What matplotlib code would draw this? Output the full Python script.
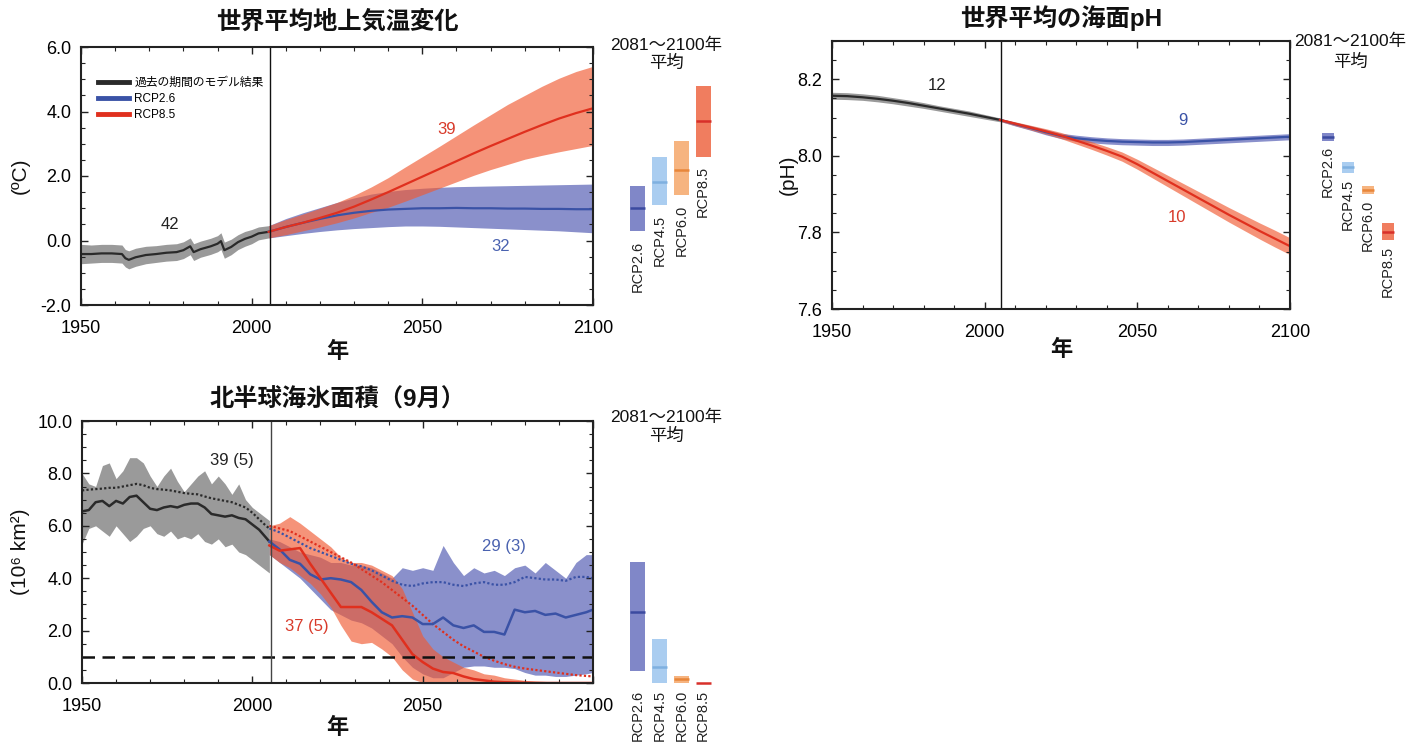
import numpy as np
import matplotlib
matplotlib.use('Agg')
import matplotlib.pyplot as plt
from matplotlib.ticker import MultipleLocator, FormatStrFormatter
from matplotlib.lines import Line2D

plt.rcParams['font.family'] = ['Liberation Sans', 'Noto Sans CJK JP', 'DejaVu Sans']
plt.rcParams['axes.unicode_minus'] = False

# ---------------- data ----------------
bar_names = ['RCP2.6', 'RCP4.5', 'RCP6.0', 'RCP8.5']

# global mean surface temperature change
temp_hist_years = [1950, 1953, 1956, 1959, 1962, 1963, 1964, 1966, 1969, 1972, 1975, 1978, 1980,
                   1982, 1983, 1985, 1988, 1990, 1991, 1992, 1994, 1996, 1998, 2000, 2002, 2005]
temp_hist = [-0.42, -0.42, -0.40, -0.40, -0.42, -0.55, -0.60, -0.52, -0.45, -0.42, -0.38, -0.36, -0.30,
             -0.18, -0.36, -0.27, -0.18, -0.10, -0.02, -0.30, -0.20, -0.05, 0.05, 0.12, 0.22, 0.27]
temp_hist_lo = [-0.72, -0.70, -0.68, -0.68, -0.70, -0.82, -0.88, -0.80, -0.72, -0.68, -0.64, -0.62, -0.56,
                -0.44, -0.62, -0.52, -0.43, -0.35, -0.28, -0.55, -0.44, -0.28, -0.18, -0.10, 0.02, 0.08]
temp_hist_hi = [-0.12, -0.14, -0.12, -0.12, -0.14, -0.28, -0.32, -0.24, -0.18, -0.16, -0.12, -0.10, -0.04,
                0.08, -0.10, -0.02, 0.07, 0.15, 0.24, -0.05, 0.04, 0.18, 0.28, 0.34, 0.42, 0.46]

proj_years = [2005, 2010, 2015, 2020, 2025, 2030, 2035, 2040, 2045, 2050,
              2055, 2060, 2065, 2070, 2075, 2080, 2085, 2090, 2095, 2100]
rcp26_T = [0.27, 0.42, 0.55, 0.67, 0.78, 0.86, 0.92, 0.96, 0.98, 1.00, 1.00, 1.01, 1.00, 1.00, 0.99, 0.99, 0.98, 0.98, 0.97, 0.97]
rcp26_T_lo = [0.08, 0.15, 0.22, 0.28, 0.33, 0.37, 0.40, 0.43, 0.45, 0.45, 0.44, 0.42, 0.40, 0.38, 0.36, 0.34, 0.32, 0.30, 0.27, 0.24]
rcp26_T_hi = [0.46, 0.68, 0.86, 1.02, 1.18, 1.32, 1.44, 1.52, 1.58, 1.62, 1.65, 1.67, 1.68, 1.69, 1.70, 1.71, 1.72, 1.73, 1.74, 1.75]
rcp85_T = [0.27, 0.42, 0.55, 0.70, 0.86, 1.05, 1.27, 1.50, 1.74, 1.98, 2.22, 2.46, 2.70, 2.93, 3.15, 3.37, 3.58, 3.78, 3.95, 4.10]
rcp85_T_lo = [0.08, 0.18, 0.30, 0.42, 0.55, 0.70, 0.87, 1.03, 1.22, 1.42, 1.62, 1.82, 2.02, 2.20, 2.36, 2.52, 2.64, 2.75, 2.85, 2.95]
rcp85_T_hi = [0.46, 0.65, 0.82, 1.00, 1.18, 1.40, 1.66, 1.95, 2.28, 2.60, 2.92, 3.25, 3.58, 3.90, 4.22, 4.50, 4.78, 5.03, 5.24, 5.40]

temp_bar_mean = [1.0, 1.8, 2.2, 3.7]
temp_bar_lo = [0.3, 1.1, 1.4, 2.6]
temp_bar_hi = [1.7, 2.6, 3.1, 4.8]

# global mean ocean surface pH
ph_hist_years = [1950, 1955, 1960, 1965, 1970, 1975, 1980, 1985, 1990, 1995, 2000, 2005]
ph_hist = [8.157, 8.156, 8.153, 8.149, 8.144, 8.138, 8.131, 8.124, 8.117, 8.110, 8.102, 8.094]
ph_hist_lo = [8.148, 8.147, 8.145, 8.141, 8.136, 8.130, 8.124, 8.117, 8.110, 8.103, 8.096, 8.089]
ph_hist_hi = [8.166, 8.165, 8.162, 8.158, 8.152, 8.146, 8.139, 8.131, 8.124, 8.117, 8.108, 8.099]
rcp26_ph = [8.094, 8.083, 8.073, 8.062, 8.052, 8.046, 8.042, 8.039, 8.037, 8.036, 8.035, 8.035, 8.036, 8.038, 8.040, 8.042, 8.044, 8.046, 8.048, 8.050]
rcp26_ph_lo = [8.090, 8.078, 8.067, 8.055, 8.045, 8.038, 8.034, 8.031, 8.029, 8.028, 8.027, 8.027, 8.028, 8.030, 8.032, 8.034, 8.036, 8.038, 8.040, 8.042]
rcp26_ph_hi = [8.098, 8.088, 8.079, 8.069, 8.059, 8.054, 8.050, 8.047, 8.045, 8.044, 8.043, 8.043, 8.044, 8.046, 8.048, 8.050, 8.052, 8.054, 8.056, 8.058]
rcp85_ph = [8.094, 8.084, 8.074, 8.064, 8.053, 8.040, 8.027, 8.013, 7.998, 7.978, 7.956, 7.934, 7.912, 7.890, 7.868, 7.846, 7.825, 7.804, 7.784, 7.764]
rcp85_ph_lo = [8.090, 8.079, 8.068, 8.057, 8.045, 8.031, 8.017, 8.002, 7.986, 7.965, 7.942, 7.919, 7.896, 7.873, 7.850, 7.827, 7.805, 7.783, 7.762, 7.742]
rcp85_ph_hi = [8.098, 8.089, 8.080, 8.071, 8.061, 8.049, 8.037, 8.024, 8.010, 7.991, 7.970, 7.949, 7.928, 7.907, 7.886, 7.865, 7.845, 7.825, 7.806, 7.786]

ph_bar_mean = [8.050, 7.970, 7.912, 7.802]
ph_bar_lo = [8.040, 7.955, 7.900, 7.780]
ph_bar_hi = [8.060, 7.985, 7.922, 7.825]

# Northern Hemisphere September sea ice extent
ice_hist_years = [1950, 1952, 1954, 1956, 1958, 1960, 1962, 1964, 1966, 1968, 1970, 1972, 1974, 1976,
                  1978, 1980, 1982, 1984, 1986, 1988, 1990, 1992, 1994, 1996, 1998, 2000, 2002, 2004, 2005]
ice_hist = [6.55, 6.60, 6.90, 6.95, 6.75, 6.95, 6.85, 7.10, 7.15, 6.90, 6.65, 6.60, 6.70, 6.75,
            6.70, 6.80, 6.85, 6.85, 6.70, 6.45, 6.40, 6.35, 6.40, 6.30, 6.25, 6.05, 5.85, 5.55, 5.40]
ice_hist_all = [7.35, 7.38, 7.40, 7.42, 7.45, 7.45, 7.50, 7.55, 7.60, 7.55, 7.45, 7.40, 7.38, 7.35,
                7.30, 7.25, 7.22, 7.20, 7.12, 7.05, 7.00, 6.95, 6.90, 6.80, 6.70, 6.50, 6.25, 6.00, 5.90]
ice_hist_lo = [5.30, 5.90, 6.00, 5.80, 5.60, 6.00, 5.70, 5.40, 5.60, 5.90, 6.00, 5.70, 5.60, 5.80,
               5.50, 5.60, 5.50, 5.70, 5.40, 5.30, 5.50, 5.20, 5.30, 5.00, 4.90, 4.70, 4.50, 4.30, 4.20]
ice_hist_hi = [8.00, 7.60, 7.50, 8.30, 8.40, 7.80, 8.10, 8.60, 8.60, 8.40, 7.90, 7.50, 7.90, 8.20,
               7.70, 7.30, 7.60, 7.90, 8.10, 7.60, 7.90, 7.60, 7.20, 7.60, 7.00, 6.70, 6.50, 6.30, 6.20]

ice_proj_years = [2005, 2008, 2011, 2014, 2017, 2020, 2023, 2026, 2029, 2032, 2035, 2038, 2041, 2044, 2047,
                  2050, 2053, 2056, 2059, 2062, 2065, 2068, 2071, 2074, 2077, 2080, 2083, 2086, 2089,
                  2092, 2095, 2098, 2100]
rcp26_ice = [5.40, 5.10, 4.70, 4.55, 4.15, 3.95, 4.00, 3.95, 3.85, 3.55, 3.10, 2.70, 2.50, 2.55, 2.50,
             2.25, 2.25, 2.50, 2.20, 2.10, 2.20, 1.95, 1.95, 1.85, 2.80, 2.70, 2.75, 2.60, 2.65,
             2.50, 2.60, 2.70, 2.80]
rcp26_ice_all = [5.90, 5.75, 5.55, 5.35, 5.15, 5.00, 4.85, 4.70, 4.55, 4.45, 4.30, 4.10, 3.90, 3.75, 3.70,
                 3.80, 3.85, 3.85, 3.75, 3.70, 3.80, 3.85, 3.75, 3.75, 3.85, 4.05, 4.00, 3.95, 3.95,
                 3.90, 4.05, 4.05, 4.00]
rcp26_ice_lo = [4.90, 4.60, 4.30, 4.00, 3.60, 3.20, 2.80, 2.60, 2.40, 2.30, 2.10, 1.80, 1.50, 1.00, 0.60,
                0.35, 0.20, 0.20, 0.40, 0.60, 0.65, 0.65, 0.60, 0.60, 0.55, 0.40, 0.30, 0.30, 0.25,
                0.25, 0.30, 0.35, 0.40]
rcp26_ice_hi = [5.50, 5.40, 5.20, 5.00, 4.90, 4.80, 4.60, 4.60, 4.50, 4.50, 4.40, 4.20, 4.00, 4.40, 4.30,
                4.40, 4.30, 5.25, 4.60, 4.10, 4.40, 4.20, 4.30, 4.10, 4.40, 4.50, 4.20, 4.60, 4.30,
                4.00, 4.60, 4.90, 4.90]
rcp85_ice = [5.25, 5.05, 5.10, 5.15, 4.55, 4.00, 3.45, 2.90, 2.90, 2.90, 2.70, 2.45, 2.20, 1.65, 1.10,
             0.80, 0.55, 0.42, 0.38, 0.25, 0.15, 0.10, 0.05, 0.03, 0.02, 0.01, 0.00, 0.00, 0.00,
             0.00, 0.00, 0.00, 0.00]
rcp85_ice_all = [6.00, 5.90, 5.80, 5.60, 5.40, 5.20, 5.00, 4.80, 4.60, 4.35, 4.10, 3.85, 3.55, 3.25, 2.95,
                 2.60, 2.25, 1.95, 1.65, 1.40, 1.20, 1.00, 0.85, 0.72, 0.62, 0.55, 0.50, 0.45, 0.40,
                 0.35, 0.30, 0.27, 0.25]
rcp85_ice_lo = [4.90, 4.60, 4.40, 4.10, 3.80, 3.40, 2.90, 2.20, 1.60, 1.50, 1.55, 1.30, 1.00, 0.50, 0.15,
                0.02, 0.00, 0.00, 0.00, 0.00, 0.00, 0.00, 0.00, 0.00, 0.00, 0.00, 0.00, 0.00, 0.00,
                0.00, 0.00, 0.00, 0.00]
rcp85_ice_hi = [6.00, 6.10, 6.35, 6.10, 5.80, 5.50, 5.20, 4.80, 4.60, 4.60, 4.50, 4.30, 4.10, 3.60, 2.70,
                1.80, 1.30, 1.00, 0.80, 0.60, 0.50, 0.35, 0.30, 0.20, 0.15, 0.10, 0.08, 0.06, 0.04,
                0.03, 0.02, 0.01, 0.00]
ice_threshold = 1.0

ice_bar_mean = [2.71, 0.61, 0.17, 0.0]
ice_bar_lo = [0.47, 0.0, 0.0, 0.0]
ice_bar_hi = [4.63, 1.68, 0.27, 0.0]

x_ticks = [1950, 2000, 2050, 2100]
temp_yticks = [-2.0, 0.0, 2.0, 4.0, 6.0]
ph_yticks = [7.6, 7.8, 8.0, 8.2]
ice_yticks = [0.0, 2.0, 4.0, 6.0, 8.0, 10.0]

# ---------------- styles ----------------
C_HIST_LINE = '#2a2a2a'
C_HIST_BAND = '#9a9a9a'
C_BLUE_LINE = '#3a52a6'
C_BLUE_BAND = '#4b55b0'
C_RED_LINE = '#e0301e'
C_RED_BAND = '#f05a32'
bar_colors = ['#8087c8', '#aacdf0', '#f6b480', '#f07d5f']
bar_line_colors = ['#3b4aa0', '#7fb0e0', '#e8863a', '#d8302a']

W, H = 1422, 744
fig = plt.figure(figsize=(W / 100, H / 100), dpi=100)


def px_axes(l, t, r, b):
    return fig.add_axes([l / W, 1 - b / H, (r - l) / W, (b - t) / H])


def style(ax, ylim, yticks, minor, fmt):
    ax.set_xlim(1950, 2100)
    ax.set_ylim(*ylim)
    ax.set_xticks(x_ticks)
    ax.xaxis.set_minor_locator(MultipleLocator(10))
    ax.set_yticks(yticks)
    ax.yaxis.set_minor_locator(MultipleLocator(minor))
    ax.yaxis.set_major_formatter(FormatStrFormatter(fmt))
    ax.tick_params(which='both', direction='in', top=True, right=True, labelsize=13, color='#222222')
    ax.tick_params(which='major', length=5, width=1.0)
    ax.tick_params(which='minor', length=3, width=0.8)
    ax.tick_params(axis='x', pad=11)
    ax.tick_params(axis='y', pad=7)
    for s in ax.spines.values():
        s.set_linewidth(1.5)
        s.set_color('#222222')


def bars(bax, ylim, means, lows, highs, label_base, gap_pt, bw):
    bax.set_xlim(0, 4)
    bax.set_ylim(*ylim)
    bax.axis('off')
    for i, name in enumerate(bar_names):
        x = i + 0.5
        bax.bar(x, highs[i] - lows[i], bottom=lows[i], width=bw, color=bar_colors[i],
                edgecolor='none', clip_on=False)
        bax.plot([x - bw / 2, x + bw / 2], [means[i], means[i]], color=bar_line_colors[i], lw=1.8,
                 clip_on=False, solid_capstyle='butt')
        base = lows[i] if label_base is None else label_base
        bax.annotate(name, xy=(x, base), xytext=(0, -gap_pt), textcoords='offset points',
                     rotation=90, ha='center', va='top', fontsize=10.5, color='#222222',
                     annotation_clip=False)


def period_text(xc, y1, y2):
    fig.text(xc / W, 1 - y1 / H, '2081～2100年', ha='center', va='center', fontsize=12.5, color='#111111')
    fig.text(xc / W, 1 - y2 / H, '平均', ha='center', va='center', fontsize=12.5, color='#111111')


def title(ax, txt, y):
    ax.text(0.5, y, txt, transform=ax.transAxes, ha='center', va='center', fontsize=17.5,
            fontweight='bold', color='#111111')


def xlab(ax, y):
    ax.text(0.5, y, '年', transform=ax.transAxes, ha='center', va='center', fontsize=16,
            fontweight='bold', color='#111111')


def ylab(ax, txt, x):
    ax.text(x, 0.5, txt, transform=ax.transAxes, ha='center', va='center', fontsize=15,
            rotation=90, color='#111111')


# ---------------- temperature ----------------
axT = px_axes(81, 47, 593, 305)
style(axT, (-2.0, 6.0), temp_yticks, 0.5, '%.1f')
axT.fill_between(temp_hist_years, temp_hist_lo, temp_hist_hi, color=C_HIST_BAND, lw=0)
axT.fill_between(proj_years, rcp26_T_lo, rcp26_T_hi, color=C_BLUE_BAND, alpha=0.65, lw=0)
axT.fill_between(proj_years, rcp85_T_lo, rcp85_T_hi, color=C_RED_BAND, alpha=0.65, lw=0)
axT.plot(temp_hist_years, temp_hist, color=C_HIST_LINE, lw=1.6)
axT.plot(proj_years, rcp26_T, color=C_BLUE_LINE, lw=1.6)
axT.plot(proj_years, rcp85_T, color=C_RED_LINE, lw=1.6)
axT.axvline(2005.5, color='#111111', lw=1.0)
axT.text(1976, 0.5, '42', ha='center', va='center', fontsize=12, color='#222222')
axT.text(2057, 3.45, '39', ha='center', va='center', fontsize=12, color='#d83a2a')
axT.text(2073, -0.2, '32', ha='center', va='center', fontsize=12, color='#4a62b0')
handles = [Line2D([], [], color=C_HIST_LINE, lw=3.5),
           Line2D([], [], color=C_BLUE_LINE, lw=3.5),
           Line2D([], [], color=C_RED_LINE, lw=3.5)]
axT.legend(handles, ['過去の期間のモデル結果', 'RCP2.6', 'RCP8.5'], loc='upper left',
           bbox_to_anchor=(0.033, 0.885), frameon=False, fontsize=8.5, borderpad=0,
           borderaxespad=0, handlelength=2.6, handletextpad=0.5, labelspacing=0.35)
title(axT, '世界平均地上気温変化', 1.097)
xlab(axT, -0.182)
ylab(axT, '(ºC)', -0.119)
bT = px_axes(627, 47, 714, 305)
bars(bT, (-2.0, 6.0), temp_bar_mean, temp_bar_lo, temp_bar_hi, None, 7, 0.69)
period_text(666, 45, 63)

# ---------------- pH ----------------
axP = px_axes(832, 41, 1290, 309)
style(axP, (7.6, 8.3), ph_yticks, 0.05, '%.1f')
axP.fill_between(ph_hist_years, ph_hist_lo, ph_hist_hi, color=C_HIST_BAND, lw=0)
axP.fill_between(proj_years, rcp26_ph_lo, rcp26_ph_hi, color=C_BLUE_BAND, alpha=0.65, lw=0)
axP.fill_between(proj_years, rcp85_ph_lo, rcp85_ph_hi, color=C_RED_BAND, alpha=0.65, lw=0)
axP.plot(ph_hist_years, ph_hist, color=C_HIST_LINE, lw=1.6)
axP.plot(proj_years, rcp26_ph, color=C_BLUE_LINE, lw=1.6)
axP.plot(proj_years, rcp85_ph, color=C_RED_LINE, lw=1.6)
axP.axvline(2005.5, color='#111111', lw=1.0)
axP.text(1984.5, 8.183, '12', ha='center', va='center', fontsize=12, color='#222222')
axP.text(2065, 8.092, '9', ha='center', va='center', fontsize=12, color='#3a52a6')
axP.text(2063, 7.840, '10', ha='center', va='center', fontsize=12, color='#d83a2a')
title(axP, '世界平均の海面pH', 1.086)
xlab(axP, -0.153)
ylab(axP, '(pH)', -0.095)
bP = px_axes(1318, 41, 1398, 309)
bars(bP, (7.6, 8.3), ph_bar_mean, ph_bar_lo, ph_bar_hi, None, 4, 0.62)
period_text(1350, 41, 62)

# ---------------- sea ice ----------------
axI = px_axes(82, 421, 593, 683)
style(axI, (0.0, 10.0), ice_yticks, 0.5, '%.1f')
axI.fill_between(ice_hist_years, ice_hist_lo, ice_hist_hi, color=C_HIST_BAND, lw=0)
axI.fill_between(ice_proj_years, rcp26_ice_lo, rcp26_ice_hi, color=C_BLUE_BAND, alpha=0.65, lw=0)
axI.fill_between(ice_proj_years, rcp85_ice_lo, rcp85_ice_hi, color=C_RED_BAND, alpha=0.65, lw=0)
axI.plot(ice_hist_years, ice_hist_all, color=C_HIST_LINE, lw=1.6, ls=(0, (1, 1)))
axI.plot(ice_proj_years, rcp26_ice_all, color=C_BLUE_LINE, lw=1.6, ls=(0, (1, 1)))
axI.plot(ice_proj_years, rcp85_ice_all, color=C_RED_LINE, lw=1.6, ls=(0, (1, 1)))
axI.plot(ice_hist_years, ice_hist, color=C_HIST_LINE, lw=1.8)
axI.plot(ice_proj_years, rcp26_ice, color=C_BLUE_LINE, lw=1.8)
axI.plot(ice_proj_years, rcp85_ice, color=C_RED_LINE, lw=1.8)
axI.axhline(ice_threshold, color='#111111', lw=1.8, ls=(0, (5, 3)))
axI.axvline(2005.5, color='#444444', lw=1.0)
axI.text(1994, 8.5, '39 (5)', ha='center', va='center', fontsize=12, color='#222222')
axI.text(2074, 5.2, '29 (3)', ha='center', va='center', fontsize=12, color='#4a62b0')
axI.text(2016, 2.15, '37 (5)', ha='center', va='center', fontsize=12, color='#d83a2a')
title(axI, '北半球海氷面積（9月）', 1.080)
xlab(axI, -0.172)
ylab(axI, '(10⁶ km²)', -0.121)
bI = px_axes(627, 421, 714, 683)
bars(bI, (0.0, 10.0), ice_bar_mean, ice_bar_lo, ice_bar_hi, 0.0, 5, 0.69)
period_text(666, 417, 436)

fig.savefig('out.png', dpi=100)
